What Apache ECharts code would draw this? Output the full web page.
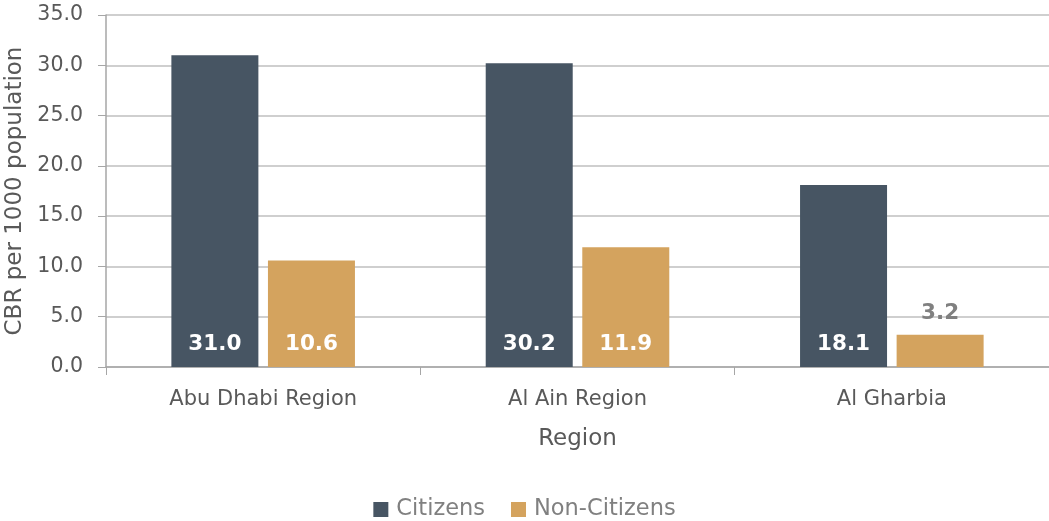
<!DOCTYPE html>
<html lang="en">
<head>
    <meta charset="UTF-8">
    <title>CBR by Region</title>
    <script src="https://cdn.jsdelivr.net/npm/echarts@6/dist/echarts.min.js"></script>
    <style>
        html, body { margin: 0; padding: 0; background: #fff; }
        #chart { width: 1049px; height: 521px; }
    </style>
</head>
<body>
    <div id="chart"></div>
    <script type="text/javascript">
        var regions = ['Abu Dhabi Region', 'Al Ain Region', 'Al Gharbia'];
        var citizens = [31.0, 30.2, 18.1];
        var nonCitizens = [10.6, 11.9, 3.2];
        var seriesNames = ['Citizens', 'Non-Citizens'];

        var font = 'DejaVu Sans';
        var myChart = echarts.init(document.getElementById('chart'));

        // small bars get their label above in grey, like the original
        function labelled(values) {
            return values.map(function (v) {
                if (v < 5) {
                    return {
                        value: v,
                        label: { position: 'top', color: '#808080', distance: 10 }
                    };
                }
                return v;
            });
        }

        var option = {
            animation: false,
            grid: { left: 106, right: 0, top: 15, bottom: 154, outerBoundsMode: 'none' },
            legend: {
                bottom: -5,
                left: 'center',
                itemWidth: 15,
                itemHeight: 15,
                itemGap: 26,
                icon: 'rect',
                textStyle: { fontFamily: font, fontSize: 22.5, color: '#808080', padding: [0, 0, 0, 3] },
                data: seriesNames
            },
            xAxis: {
                type: 'category',
                data: regions,
                name: 'Region',
                nameLocation: 'middle',
                nameGap: 61,
                nameTextStyle: { fontFamily: font, fontSize: 23, color: '#595959' },
                axisLine: { lineStyle: { color: '#a6a6a6', width: 1.5 } },
                axisTick: { show: true, length: 8, lineStyle: { color: '#a6a6a6' } },
                axisLabel: { fontFamily: font, fontSize: 21, color: '#595959', margin: 22 }
            },
            yAxis: {
                type: 'value',
                min: 0,
                max: 35,
                interval: 5,
                name: 'CBR per 1000 population',
                nameLocation: 'middle',
                nameGap: 76,
                nameTextStyle: { fontFamily: font, fontSize: 23, color: '#595959' },
                axisLine: { show: true, lineStyle: { color: '#a6a6a6', width: 1.5 } },
                axisTick: { show: true, length: 8, lineStyle: { color: '#a6a6a6' } },
                splitLine: { lineStyle: { color: '#bfbfbf', width: 1.5 } },
                axisLabel: {
                    fontFamily: font, fontSize: 20.5, color: '#595959', margin: 23,
                    formatter: function (v) { return v.toFixed(1); }
                }
            },
            series: [
                {
                    name: seriesNames[0],
                    type: 'bar',
                    barWidth: 87,
                    barGap: '11%',
                    itemStyle: { color: '#475563' },
                    label: {
                        show: true, position: 'insideBottom', distance: 12,
                        color: '#fff', fontFamily: font, fontWeight: 'bold', fontSize: 21.5,
                        formatter: function (p) { return p.value.toFixed(1); }
                    },
                    data: labelled(citizens)
                },
                {
                    name: seriesNames[1],
                    type: 'bar',
                    barWidth: 87,
                    itemStyle: { color: '#d4a35e' },
                    label: {
                        show: true, position: 'insideBottom', distance: 12,
                        color: '#fff', fontFamily: font, fontWeight: 'bold', fontSize: 21.5,
                        formatter: function (p) { return p.value.toFixed(1); }
                    },
                    data: labelled(nonCitizens)
                }
            ]
        };
        myChart.setOption(option);
    </script>
</body>
</html>
